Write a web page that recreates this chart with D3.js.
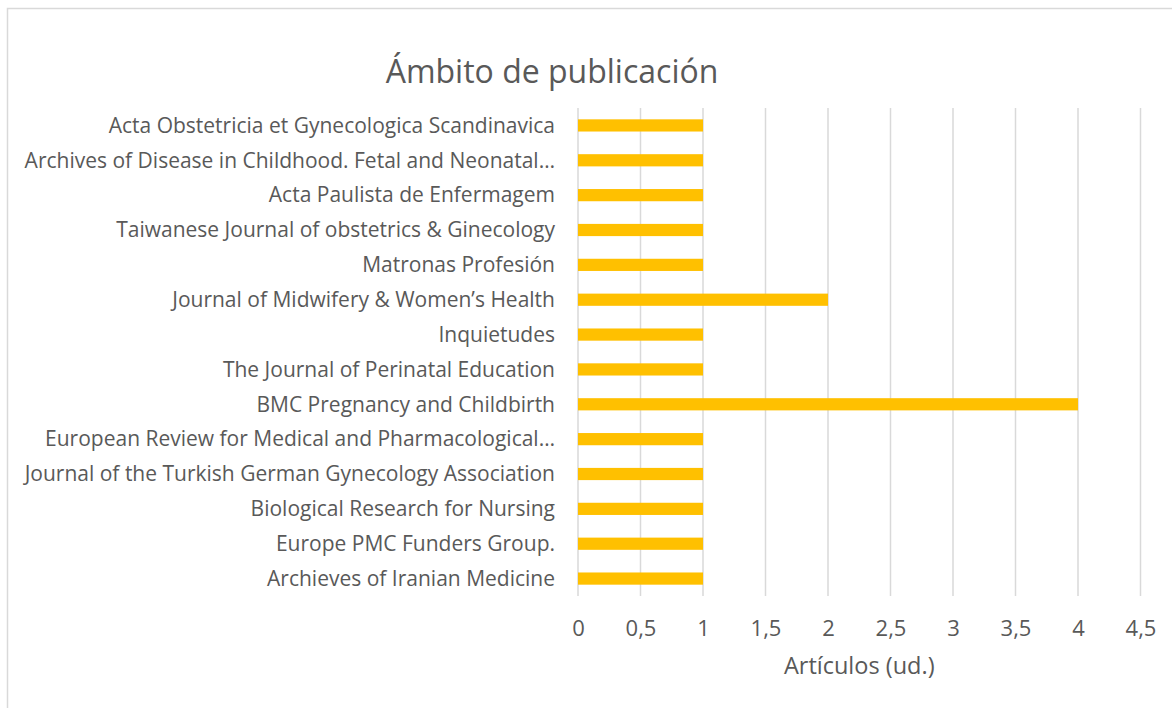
<!DOCTYPE html>
<html>
<head>
<meta charset="utf-8">
<script src="https://cdn.jsdelivr.net/npm/d3@7"></script>
<style>
  body { margin: 0; background: #fff; }
  text { font-family: "Open Sans", sans-serif; fill: #595959; }
</style>
</head>
<body>
<div id="vis"></div>
<script>
const journals = [
  "Acta Obstetricia et Gynecologica Scandinavica",
  "Archives of Disease in Childhood. Fetal and Neonatal…",
  "Acta Paulista de Enfermagem",
  "Taiwanese Journal of obstetrics & Ginecology",
  "Matronas Profesión",
  "Journal of Midwifery & Women’s Health",
  "Inquietudes",
  "The Journal of Perinatal Education",
  "BMC Pregnancy and Childbirth",
  "European Review for Medical and Pharmacological…",
  "Journal of the Turkish German Gynecology Association",
  "Biological Research for Nursing",
  "Europe PMC Funders Group.",
  "Archieves of Iranian Medicine"
];
const articles = [1, 1, 1, 1, 1, 2, 1, 1, 4, 1, 1, 1, 1, 1];
const ticks = [0, 0.5, 1, 1.5, 2, 2.5, 3, 3.5, 4, 4.5];

const width = 1172, height = 708;
const margin = { top: 108, left: 578, right: 31.5, bottom: 112 };

const svg = d3.select("#vis").append("svg")
  .attr("width", width)
  .attr("height", height);

// chart border
svg.append("rect")
  .attr("x", 7.5).attr("y", 8.5)
  .attr("width", 1180).attr("height", 720)
  .attr("fill", "none")
  .attr("stroke", "#d9d9d9")
  .attr("stroke-width", 1.5);

const x = d3.scaleLinear()
  .domain([0, 4.5])
  .range([margin.left, width - margin.right]);

const y = d3.scaleBand()
  .domain(journals)
  .range([margin.top, height - margin.bottom])
  .paddingInner(0.65)
  .paddingOuter(0.325);

// gridlines
svg.append("g")
  .selectAll("line")
  .data(ticks)
  .enter().append("line")
  .attr("x1", d => x(d)).attr("x2", d => x(d))
  .attr("y1", margin.top).attr("y2", height - margin.bottom)
  .attr("stroke", "#d9d9d9")
  .attr("stroke-width", 1.5);

// bars
svg.append("g")
  .selectAll("rect")
  .data(journals)
  .enter().append("rect")
  .attr("x", x(0))
  .attr("y", d => y(d))
  .attr("width", (d, i) => x(articles[i]) - x(0))
  .attr("height", y.bandwidth())
  .attr("fill", "#ffc000");

// x axis labels
const fmt = d => String(d).replace(".", ",");
const xAxis = d3.axisBottom(x).tickValues(ticks).tickFormat(fmt).tickSize(0).tickPadding(0);
const gx = svg.append("g")
  .attr("transform", "translate(0, 628)")
  .call(xAxis);
gx.select(".domain").remove();
gx.selectAll("text")
  .attr("y", 0)
  .attr("dy", "0.35em")
  .style("font-size", "22px")
  .style("font-family", "'Open Sans', sans-serif")
  .attr("fill", "#595959");

// y labels
const gy = svg.append("g");
gy.selectAll("text")
  .data(journals)
  .enter().append("text")
  .attr("x", 555)
  .attr("y", d => y(d) + y.bandwidth() / 2)
  .attr("dy", "0.35em")
  .attr("text-anchor", "end")
  .style("font-size", "21px")
  .text(d => d);

// title
svg.append("text")
  .attr("x", 552)
  .attr("y", 72)
  .attr("dy", "0.35em")
  .attr("text-anchor", "middle")
  .style("font-size", "32px")
  .text("Ámbito de publicación");

// axis title
svg.append("text")
  .attr("x", (x(0) + x(4.5)) / 2)
  .attr("y", 666)
  .attr("dy", "0.35em")
  .attr("text-anchor", "middle")
  .style("font-size", "23.5px")
  .text("Artículos (ud.)");
</script>
</body>
</html>
